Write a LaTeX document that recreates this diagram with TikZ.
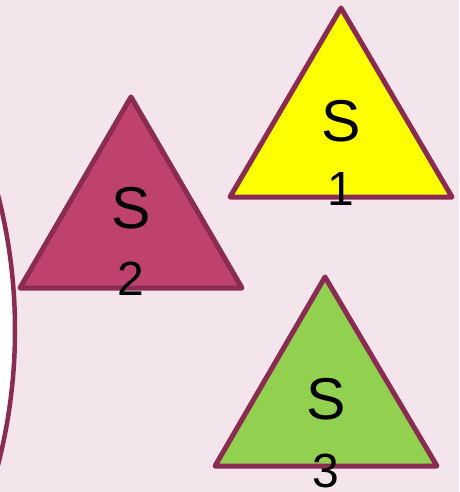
\documentclass[tikz,border=0pt]{standalone}
\usepackage{fontspec}
\setmainfont{Liberation Sans}
\definecolor{bgpink}{HTML}{F4E4EC}
\definecolor{edge}{HTML}{8A2B52}
\definecolor{tyellow}{HTML}{FFFF00}
\definecolor{tmagenta}{HTML}{BE416E}
\definecolor{tgreen}{HTML}{92D050}
\tikzset{
  tri/.style={draw=edge, line width=5pt, line join=round},
  bigS/.style={font=\fontsize{59}{59}\selectfont, text=black, inner sep=0pt},
  digit/.style={font=\fontsize{48}{48}\selectfont, text=black, inner sep=0pt}
}
\begin{document}
\begin{tikzpicture}[x=1pt,y=-1pt]
\useasboundingbox (0,0) rectangle (459,492);
\fill[bgpink] (0,0) rectangle (459,492);
\begin{scope}
\clip (0,0) rectangle (459,492);
\draw[edge, fill=white, line width=4.5pt] (15-540,330) circle (540);
\end{scope}
% triangles
\draw[tri, fill=tyellow] (341,8) -- (452,197) -- (230,197) -- cycle;
\draw[tri, fill=tmagenta] (131,97) -- (242,288) -- (20,288) -- cycle;
\draw[tri, fill=tgreen] (325,277) -- (437,466) -- (215,466) -- cycle;
% labels
\node[bigS] (s1) at (341,121) {S};
\node[digit] (d1) at (341,189) {1};
\node[bigS] (s2) at (131,208) {S};
\node[digit] (d2) at (131,279) {2};
\node[bigS] (s3) at (326,399) {S};
\node[digit] (d3) at (326,471) {3};
\end{tikzpicture}
\end{document}
